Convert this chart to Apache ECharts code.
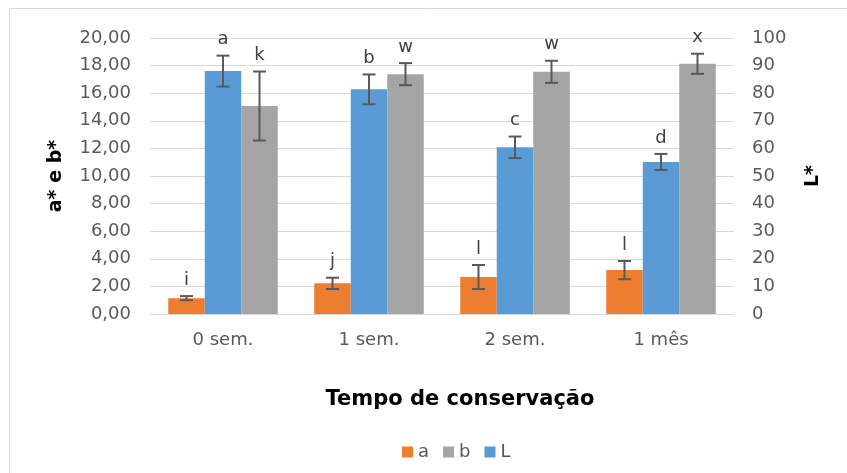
<!DOCTYPE html>
<html>
<head>
<meta charset="utf-8">
<script src="https://cdn.jsdelivr.net/npm/echarts@6/dist/echarts.min.js"></script>
<style>html,body{margin:0;padding:0;background:#fff}#c{width:847px;height:473px}</style>
</head>
<body>
<div id="c"></div>
<script>
var categories = ['0 sem.', '1 sem.', '2 sem.', '1 mês'];
var aValues = [1.15, 2.22, 2.68, 3.18];
var aErrors = [0.15, 0.41, 0.87, 0.66];
var aLetters = ['i', 'j', 'l', 'l'];
var LValues = [88.0, 81.4, 60.4, 55.1];
var LErrors = [5.6, 5.4, 3.9, 2.9];
var LLetters = ['a', 'b', 'c', 'd'];
var bValues = [15.07, 17.38, 17.55, 18.13];
var bErrors = [2.5, 0.8, 0.8, 0.73];
var bLetters = ['k', 'w', 'w', 'x'];
var leftTicks = { min: 0, max: 20, interval: 2 };
var rightTicks = { min: 0, max: 100, interval: 10 };

var chart = echarts.init(document.getElementById('c'));
var FONT = '"DejaVu Sans", sans-serif';

function errSeries(name, vals, errs, letters, axisIdx, slot) {
  return {
    type: 'custom',
    name: name + '_err',
    yAxisIndex: axisIdx,
    z: 5,
    silent: true,
    data: categories.map(function (c, i) { return [i, vals[i], errs[i]]; }),
    encode: { x: 0, y: 1 },
    renderItem: function (params, api) {
      var i = api.value(0), v = api.value(1), e = api.value(2);
      var letter = letters[params.dataIndex];
      var band = api.size([1, 0])[0];
      var bw = band * 0.75 / 3;
      var cx = api.coord([i, v])[0] + (slot - 1) * bw;
      var yTop = api.coord([i, v + e])[1];
      var yBot = api.coord([i, v - e])[1];
      var cap = 6.5;
      var st = { stroke: '#595959', lineWidth: 2 };
      return {
        type: 'group',
        children: [
          { type: 'line', shape: { x1: cx, y1: yTop, x2: cx, y2: yBot }, style: st },
          { type: 'line', shape: { x1: cx - cap, y1: yTop, x2: cx + cap, y2: yTop }, style: st },
          { type: 'line', shape: { x1: cx - cap, y1: yBot, x2: cx + cap, y2: yBot }, style: st },
          { type: 'text', style: { text: letter, x: cx, y: yTop - 16, align: 'center', verticalAlign: 'middle', font: '18px ' + FONT, fill: '#404040' } }
        ]
      };
    }
  };
}

var option = {
  animation: false,
  textStyle: { fontFamily: FONT },
  graphic: [
    { type: 'rect', shape: { x: 9.5, y: 8.5, width: 900, height: 500 }, style: { fill: 'none', stroke: '#d9d9d9', lineWidth: 1 }, silent: true },
    { type: 'text', x: 460, y: 400, style: { text: 'Tempo de conservação', align: 'center', verticalAlign: 'middle', font: 'bold 21px ' + FONT, fill: '#000' }, silent: true }
  ],
  legend: {
    data: ['a', 'b', 'L'],
    top: 438,
    left: 397,
    icon: 'rect',
    itemWidth: 11,
    itemHeight: 11,
    itemGap: 14,
    textStyle: { fontSize: 18, color: '#595959', fontFamily: FONT }
  },
  grid: { left: 150, right: 113, top: 38, bottom: 159 },
  xAxis: {
    type: 'category',
    data: categories,
    axisLine: { lineStyle: { color: '#d9d9d9', width: 1 } },
    axisTick: { show: false },
    axisLabel: { fontSize: 18, color: '#595959', margin: 17, fontFamily: FONT }
  },
  yAxis: [
    {
      type: 'value', min: leftTicks.min, max: leftTicks.max, interval: leftTicks.interval,
      name: 'a* e b*', nameLocation: 'middle', nameGap: 84, nameRotate: 90,
      nameTextStyle: { fontSize: 19, fontWeight: 'bold', color: '#000', fontFamily: FONT },
      axisLine: { show: false }, axisTick: { show: false },
      axisLabel: { fontSize: 18, color: '#595959', margin: 19, fontFamily: FONT,
        formatter: function (v) { return v.toFixed(2).replace('.', ','); } },
      splitLine: { lineStyle: { color: '#d9d9d9', width: 1 } }
    },
    {
      type: 'value', min: rightTicks.min, max: rightTicks.max, interval: rightTicks.interval,
      position: 'right',
      name: 'L*', nameLocation: 'middle', nameGap: 70, nameRotate: 90,
      nameTextStyle: { fontSize: 19, fontWeight: 'bold', color: '#000', fontFamily: FONT },
      axisLine: { show: false }, axisTick: { show: false },
      axisLabel: { fontSize: 18, color: '#595959', margin: 18, fontFamily: FONT },
      splitLine: { show: false }
    }
  ],
  series: [
    { type: 'bar', name: 'a', data: aValues, yAxisIndex: 0, barGap: '0%', barCategoryGap: '25%', itemStyle: { color: '#ED7D31' } },
    { type: 'bar', name: 'L', data: LValues, yAxisIndex: 1, barGap: '0%', barCategoryGap: '25%', itemStyle: { color: '#5B9BD5' } },
    { type: 'bar', name: 'b', data: bValues, yAxisIndex: 0, barGap: '0%', barCategoryGap: '25%', itemStyle: { color: '#A5A5A5' } },
    errSeries('a', aValues, aErrors, aLetters, 0, 0),
    errSeries('L', LValues, LErrors, LLetters, 1, 1),
    errSeries('b', bValues, bErrors, bLetters, 0, 2)
  ]
};
chart.setOption(option);
</script>
</body>
</html>
